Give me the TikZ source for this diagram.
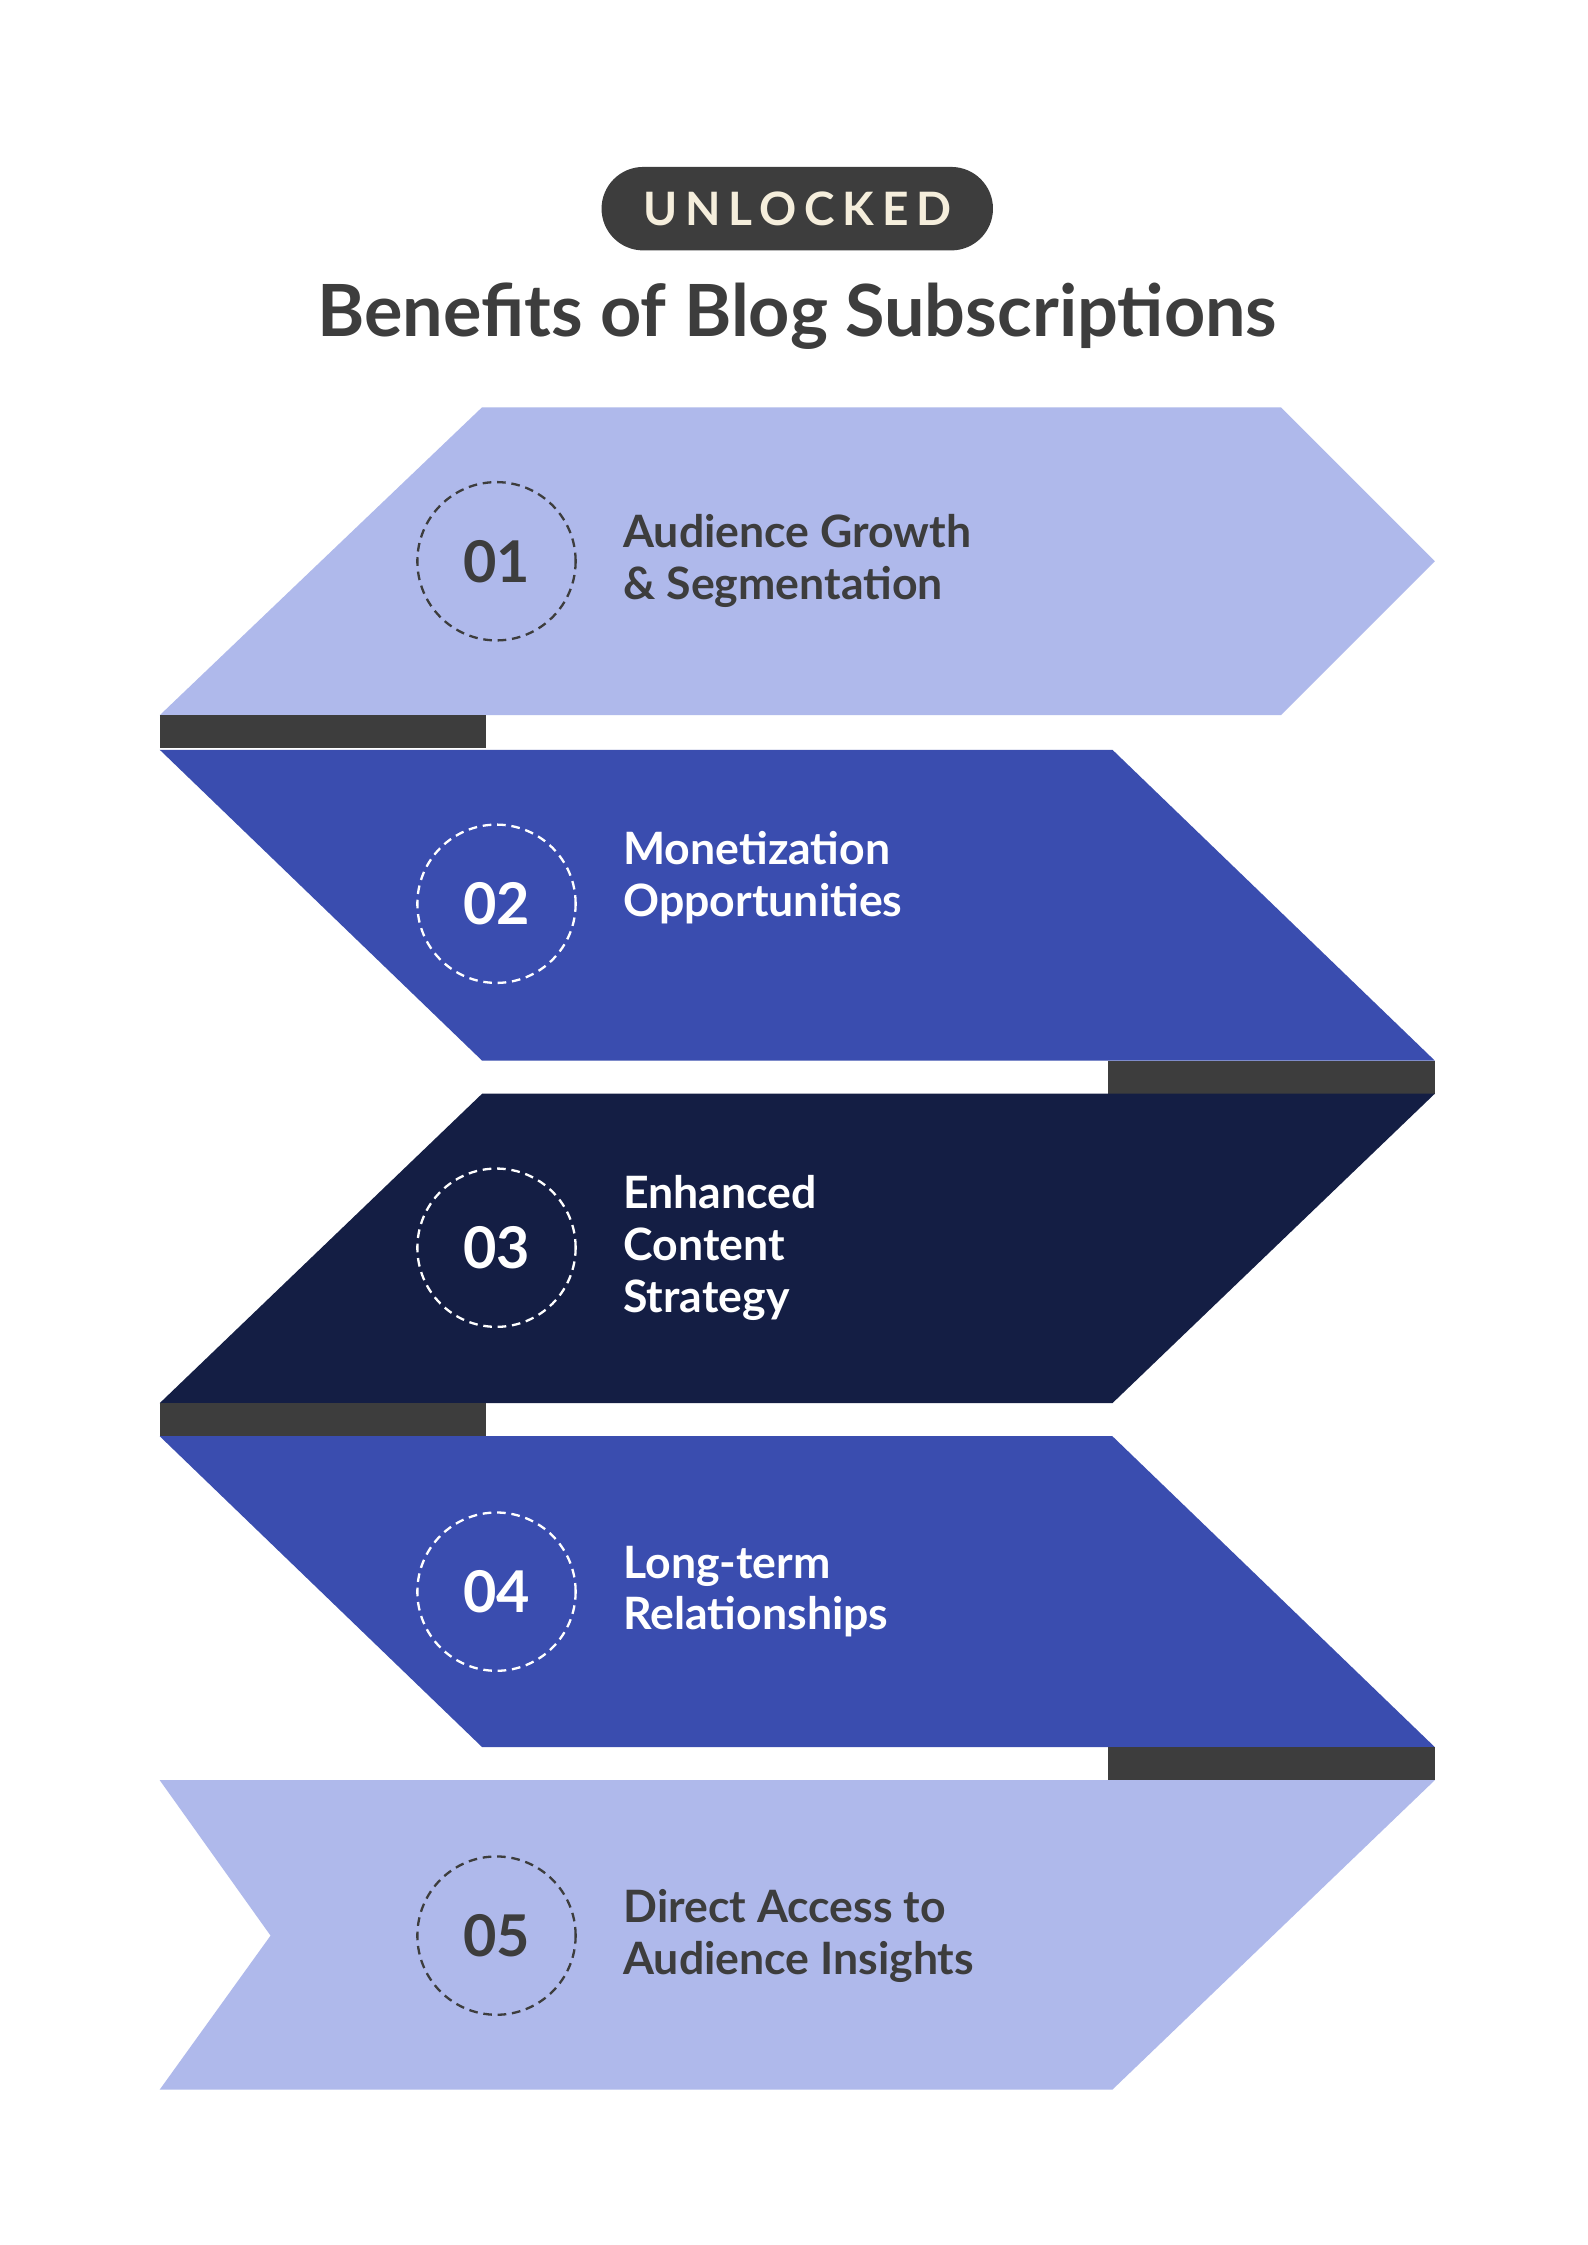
\documentclass[tikz,border=0pt]{standalone}
\usepackage{fontspec}
\setmainfont{Lato}
\usepackage{tikz}
\usetikzlibrary{positioning}
\definecolor{lightband}{HTML}{AFB9EB}
\definecolor{midband}{HTML}{3A4DAF}
\definecolor{darkband}{HTML}{141E44}
\definecolor{charcoal}{HTML}{3D3D3D}
\definecolor{cream}{HTML}{F5EEDC}
\tikzstyle{numnode}=[draw=charcoal, line width=1.6pt, dash pattern=on 6pt off 4pt, shape=circle, minimum size=110pt, inner sep=0pt, text=charcoal, font=\fontsize{40}{40}\selectfont\bfseries]
\tikzstyle{labelnode}=[anchor=west, align=left, inner sep=0pt, text=charcoal, font=\fontsize{31}{36}\selectfont\bfseries]
\tikzstyle{barnode}=[fill=charcoal, draw=none]

\begin{document}
\begin{tikzpicture}[x=1pt, y=-1pt]
\useasboundingbox (0,0) rectangle (1103,1560);
\fill[white] (0,0) rectangle (1103,1560);

\node [fill=charcoal, rounded corners=29pt, minimum width=272pt, minimum height=58pt, text=cream, font=\fontsize{32}{32}\selectfont\bfseries] (pill) at (554,145) {U\,N\,L\,O\,C\,K\,E\,D};
\node [text=charcoal, font=\fontsize{50}{50}\selectfont\bfseries] (title) at (554,220) {Benefits of Blog Subscriptions};

\fill[lightband] (335,283) -- (890,283) -- (997,390) -- (890,497) -- (111,497) -- cycle;
\fill[barnode] (111,497) rectangle (338,520);
\fill[midband] (111,521) -- (773,521) -- (997,737) -- (335,737) -- cycle;
\fill[barnode] (770,737) rectangle (997,760);
\fill[darkband] (335,760) -- (997,760) -- (773,975) -- (111,975) -- cycle;
\fill[barnode] (111,975) rectangle (338,998);
\fill[midband] (111,998) -- (773,998) -- (997,1214) -- (335,1214) -- cycle;
\fill[barnode] (770,1214) rectangle (997,1237);
\fill[lightband] (111,1237) -- (997,1237) -- (773,1452) -- (111,1452) -- (188,1345) -- cycle;

\node [numnode] (num1) at (345,390) {01};
\node [numnode, draw=white, text=white] (num2) at (345,628) {02};
\node [numnode, draw=white, text=white] (num3) at (345,867) {03};
\node [numnode, draw=white, text=white] (num4) at (345,1106) {04};
\node [numnode] (num5) at (345,1345) {05};

\node [labelnode] (lab1) at (433,390) {Audience Growth\\ \& Segmentation};
\node [labelnode, text=white] (lab2) at (433,610) {Monetization\\ Opportunities};
\node [labelnode, text=white] (lab3) at (433,867) {Enhanced\\ Content\\ Strategy};
\node [labelnode, text=white] (lab4) at (433,1106) {Long-term\\ Relationships};
\node [labelnode] (lab5) at (433,1345) {Direct Access to\\ Audience Insights};
\end{tikzpicture}
\end{document}
